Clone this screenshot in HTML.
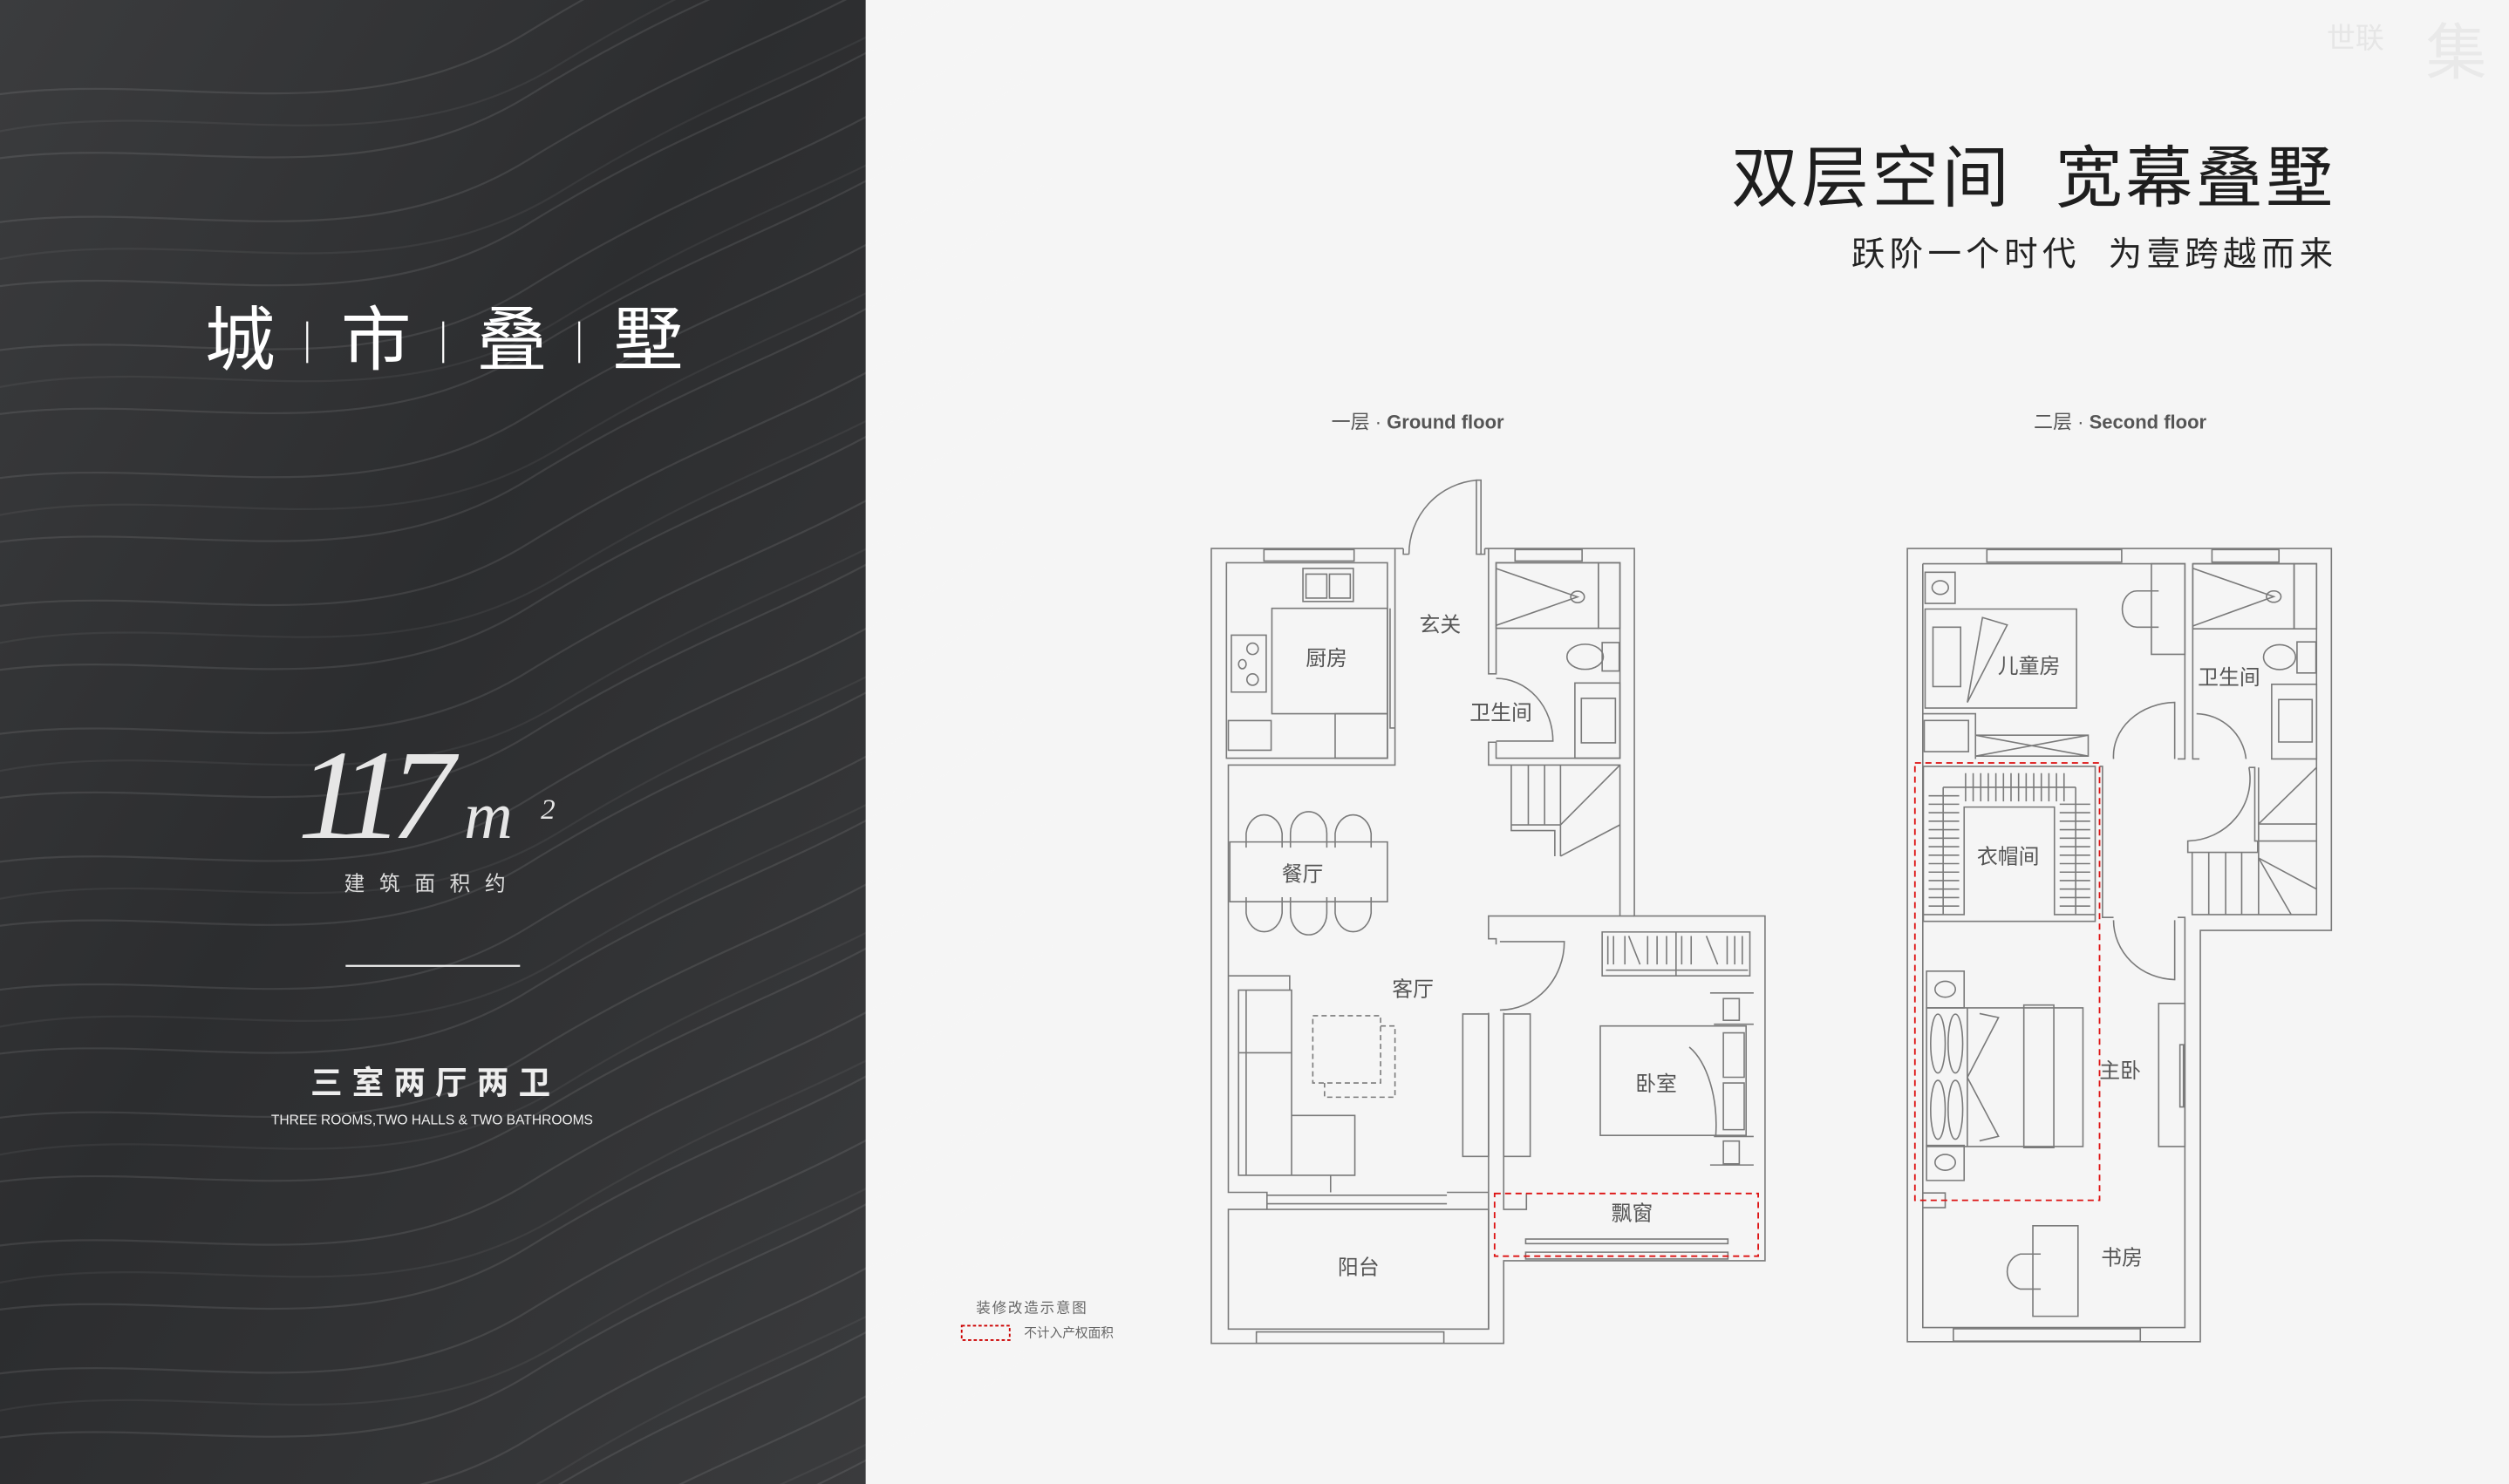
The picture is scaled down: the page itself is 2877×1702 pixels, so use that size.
<!DOCTYPE html>
<html><head><meta charset="utf-8">
<style>
html,body{margin:0;padding:0;background:#f5f5f5;overflow:hidden;width:2877px;height:1702px;}
svg{display:block;}
text{font-family:"Liberation Sans","Noto Sans CJK SC",sans-serif;white-space:pre;}
.p{fill:none;stroke:#7a7a7a;stroke-width:1.6;vector-effect:non-scaling-stroke;}
.t{vector-effect:non-scaling-stroke;}
.lbl{font-size:13px;fill:#555;text-anchor:middle;}
.serif{font-family:"Liberation Serif",serif !important;font-style:italic;}
</style></head>
<body>
<svg width="2877" height="1702" viewBox="0 0 1568 928" preserveAspectRatio="none" xmlns="http://www.w3.org/2000/svg">
<defs>
<linearGradient id="bg" x1="0" y1="0" x2="1" y2="1">
<stop offset="0" stop-color="#3b3c3e"/>
<stop offset="0.45" stop-color="#2c2d2f"/>
<stop offset="1" stop-color="#3a3b3d"/>
</linearGradient>
<path id="w" d="M-80,0 C60,-60 200,20 330,-60 S520,-140 640,-230" fill="none" stroke="#fff" stroke-width="1.2"/>
</defs>
<rect x="0" y="0" width="1568" height="928" fill="#f5f5f5"/>
<rect x="0" y="0" width="541" height="928" fill="url(#bg)"/>
<g opacity="0.09">
<use href="#w" y="80"/><use href="#w" y="120"/><use href="#w" y="160"/><use href="#w" y="200"/><use href="#w" y="240"/><use href="#w" y="280"/><use href="#w" y="320"/><use href="#w" y="360"/><use href="#w" y="400"/><use href="#w" y="440"/><use href="#w" y="480"/><use href="#w" y="520"/><use href="#w" y="560"/><use href="#w" y="600"/><use href="#w" y="640"/><use href="#w" y="680"/><use href="#w" y="720"/><use href="#w" y="760"/><use href="#w" y="800"/><use href="#w" y="840"/><use href="#w" y="880"/><use href="#w" y="920"/><use href="#w" y="960"/><use href="#w" y="1000"/><use href="#w" y="1040"/><use href="#w" y="1080"/>
</g>
<g opacity="0.05">
<use href="#w" y="100" x="20"/><use href="#w" y="180" x="20"/><use href="#w" y="260" x="20"/><use href="#w" y="340" x="20"/><use href="#w" y="420" x="20"/><use href="#w" y="500" x="20"/><use href="#w" y="580" x="20"/><use href="#w" y="660" x="20"/><use href="#w" y="740" x="20"/><use href="#w" y="820" x="20"/><use href="#w" y="900" x="20"/><use href="#w" y="980" x="20"/><use href="#w" y="1060" x="20"/>
</g>

<g fill="#fff" font-size="44" text-anchor="middle">
<text x="150" y="228">城</text><text x="235" y="228">市</text><text x="320" y="228">叠</text><text x="405" y="228">墅</text>
</g>
<g stroke="#fff" stroke-width="1.2"><line x1="192" y1="201" x2="192" y2="227"/><line x1="277" y1="201" x2="277" y2="227"/><line x1="362" y1="201" x2="362" y2="227"/></g>
<text x="186" y="524" fill="#e6e6e6" class="serif" font-size="80" letter-spacing="-8">117</text>
<text x="290" y="524" fill="#e6e6e6" class="serif" font-size="42">m</text>
<text x="338" y="512" fill="#e6e6e6" class="serif" font-size="18">2</text>
<text x="270" y="557" fill="#ddd" font-size="13" text-anchor="middle" letter-spacing="9">建筑面积约</text>
<line x1="216" y1="604" x2="325" y2="604" stroke="#eee" stroke-width="1.2"/>
<text x="272" y="684" fill="#eee" font-size="20" font-weight="bold" text-anchor="middle" letter-spacing="6">三室两厅两卫</text>
<text x="270" y="703" fill="#eee" font-size="8.5" text-anchor="middle">THREE ROOMS,TWO HALLS &amp; TWO BATHROOMS</text>

<text x="1082" y="126" fill="#1e1e1e" font-size="42" textLength="376" lengthAdjust="spacing">双层空间  宽幕叠墅</text>
<text x="1157" y="166" fill="#222" font-size="21" textLength="301" lengthAdjust="spacing">跃阶一个时代  为壹跨越而来</text>
<text x="1490" y="30" fill="#e6e6e6" font-size="18" text-anchor="end">世联</text>
<text x="1535" y="46" fill="#e9e9e9" font-size="38" text-anchor="middle">集</text>
<text x="832" y="268" fill="#555" font-size="12">一层 · <tspan font-weight="bold">Ground floor</tspan></text>
<text x="1271" y="268" fill="#555" font-size="12">二层 · <tspan font-weight="bold">Second floor</tspan></text>
<text x="610" y="821" fill="#666" font-size="9" letter-spacing="1">装修改造示意图</text>
<rect x="601" y="829" width="30" height="9" fill="none" stroke="#c00" stroke-width="1" stroke-dasharray="2,1.5"/>
<text x="640" y="836" fill="#666" font-size="8">不计入产权面积</text>

<g transform="translate(757,343) scale(0.2367,0.3563) translate(-68,-140)">
<path class="p" d="M575,140 L68,140 L68,1535 L840,1535 L840,1390 L1530,1390 L1530,785 L1185,785 L1185,140 L790,140"/>
<path class="p" d="M575,140 L575,150 L590,150 M790,140 L790,150 L775,150"/>
<path class="p" d="M590,150 A195,130 0 0 1 770,20"/>
<rect class="p" x="768" y="20" width="12" height="130"/>
<rect class="p" x="207" y="142" width="238" height="20"/><rect class="p" x="870" y="142" width="177" height="20"/>
<rect class="p" x="187" y="1515" width="495" height="20"/>
<rect class="p" x="898" y="1352" width="534" height="8"/><rect class="p" x="898" y="1375" width="534" height="12"/>
<rect class="p" x="108" y="165" width="425" height="343"/>
<path class="p" d="M553,140 L553,455 L540,455 L540,245 M553,455 L553,520 L113,520 L113,1270 L215,1270 L215,1300"/>
<rect class="p" x="228" y="245" width="305" height="185"/><rect class="p" x="395" y="430" width="138" height="78"/>
<rect class="p" x="310" y="175" width="133" height="58"/><rect class="p" x="318" y="185" width="55" height="42"/><rect class="p" x="380" y="185" width="55" height="42"/>
<rect class="p" x="121" y="292" width="92" height="100"/>
<ellipse class="p" cx="177" cy="316" rx="15" ry="10"/><ellipse class="p" cx="177" cy="370" rx="15" ry="10"/><ellipse class="p" cx="150" cy="343" rx="10" ry="8"/>
<rect class="p" x="113" y="442" width="113" height="52"/>
<path class="p" d="M800,140 L800,360 L820,360 L820,165 L1147,165 L1147,508 L820,508 L820,480 L800,480 L800,520 L1147,520 L1147,785"/>
<rect class="p" x="820" y="165" width="270" height="115"/><rect class="p" x="1090" y="165" width="57" height="115"/>
<path class="p" d="M820,175 L1035,225 L820,275"/><ellipse class="p" cx="1035" cy="225" rx="18" ry="10"/>
<rect class="p" x="1028" y="376" width="119" height="132"/><rect class="p" x="1045" y="403" width="90" height="78"/>
<ellipse class="p" cx="1055" cy="330" rx="48" ry="22"/><rect class="p" x="1100" y="305" width="45" height="50"/>
<path class="p" d="M820,368 A150,110 0 0 1 970,478 L820,478"/>
<path class="p" d="M860,520 L860,635 L975,635 L975,680 M905,520 L905,625 M948,520 L948,625 M990,520 L990,680 M990,625 L1147,520 M990,680 L1147,625 M860,625 L990,625"/>
<rect class="p" x="117" y="655" width="416" height="105"/>
<path class="p" d="M160,665 L160,640 A48,38 0 0 1 255,640 L255,665 M277,665 L277,640 A48,38 0 0 1 373,640 L373,665 M395,665 L395,640 A48,38 0 0 1 490,640 L490,665"/>
<path class="p" d="M160,752 L160,780 A48,38 0 0 0 255,780 L255,752 M277,752 L277,780 A48,38 0 0 0 373,780 L373,752 M395,752 L395,780 A48,38 0 0 0 490,780 L490,752"/>
<path class="p" d="M113,890 L275,890 L275,915 M140,915 L280,915 L280,1135 L447,1135 L447,1240 L140,1240 Z M140,1025 L280,1025 M160,915 L160,1240 M280,1135 L280,1240 M383,1240 L383,1270"/>
<rect class="p" x="336" y="960" width="179" height="118" stroke-dasharray="6,4"/>
<path class="p" d="M515,978 L553,978 L553,1103 L367,1103 L367,1078" stroke-dasharray="6,4"/>
<path class="p" d="M215,1275 L690,1275 M215,1290 L690,1290 M690,1270 L800,1270"/>
<rect class="p" x="732" y="957" width="68" height="250"/><rect class="p" x="840" y="957" width="70" height="250"/>
<path class="p" d="M800,955 L800,1510 M840,955 L840,1300 L900,1300 L900,1272"/>
<path class="p" d="M1185,785 L800,785 L800,825 L820,825 L820,835"/>
<path class="p" d="M830,830 L1000,830 A170,120 0 0 1 830,950"/>
<rect class="p" x="1100" y="813" width="390" height="77"/>
<path class="p" d="M1115,820 L1115,870 M1130,820 L1130,870 M1160,820 L1160,870 M1170,820 L1200,870 M1220,820 L1220,870 M1245,820 L1245,870 M1270,820 L1270,870 M1310,820 L1310,870 M1335,820 L1335,870 M1375,820 L1405,870 M1430,820 L1430,870 M1450,820 L1450,870 M1470,820 L1470,870 M1295,813 L1295,890 M1110,880 L1485,880"/>
<rect class="p" x="1095" y="978" width="385" height="192"/>
<rect class="p" x="1420" y="990" width="55" height="78"/><rect class="p" x="1420" y="1078" width="55" height="82"/>
<path class="p" d="M1330,1015 A120,150 0 0 1 1400,1170"/>
<rect class="p" x="1420" y="930" width="42" height="38"/><rect class="p" x="1420" y="1180" width="42" height="40"/>
<path class="p" d="M1385,920 L1500,920 M1395,975 L1500,975 M1395,1172 L1500,1172 M1385,1222 L1500,1222"/>
<rect class="p" x="113" y="1300" width="687" height="210"/>
<rect x="816" y="1272" width="696" height="110" fill="none" stroke="#d11" stroke-width="1.8" stroke-dasharray="7,5" class="t"/>
</g>
<text x="829" y="416" class="lbl">厨房</text><text x="900" y="395" class="lbl">玄关</text><text x="938" y="450" class="lbl">卫生间</text>
<text x="814" y="551" class="lbl">餐厅</text><text x="883" y="623" class="lbl">客厅</text><text x="1035" y="682" class="lbl">卧室</text>
<text x="1020" y="763" class="lbl">飘窗</text><text x="849" y="797" class="lbl">阳台</text>

<g transform="translate(1192,343) scale(0.182,0.3538) translate(-82,-133)">
<path class="p" d="M82,133 L1538,133 L1538,808 L1088,808 L1088,1535 L82,1535 Z"/>
<path class="p" d="M135,160 L1035,160 L1035,505 L1010,505 M135,160 L135,1510 L1035,1510 L1035,785 L1010,785 M1062,160 L1487,160 L1487,780 L1060,780 L1060,670 M1062,160 L1062,505 L1085,505"/>
<rect class="p" x="355" y="135" width="463" height="22"/><rect class="p" x="1128" y="135" width="230" height="22"/><rect class="p" x="240" y="1512" width="642" height="22"/>
<rect class="p" x="143" y="240" width="520" height="175"/><rect class="p" x="170" y="272" width="95" height="105"/>
<path class="p" d="M340,255 L425,268 L288,405 Z"/>
<rect class="p" x="143" y="175" width="103" height="55"/><ellipse class="p" cx="195" cy="202" rx="28" ry="12"/>
<rect class="p" x="140" y="437" width="152" height="55"/>
<path class="p" d="M135,425 L316,425 L316,505 M316,463 L703,463 L703,500 L316,500 M316,463 L703,500 M316,500 L703,463"/>
<rect class="p" x="920" y="160" width="115" height="160"/><path class="p" d="M945,208 L870,208 A50,32 0 0 0 870,272 L945,272"/>
<rect class="p" x="1062" y="160" width="348" height="115"/><rect class="p" x="1410" y="160" width="77" height="115"/>
<path class="p" d="M1062,270 L1340,218 L1062,168"/><ellipse class="p" cx="1340" cy="218" rx="25" ry="10"/>
<ellipse class="p" cx="1360" cy="325" rx="55" ry="22"/><rect class="p" x="1420" y="298" width="65" height="55"/>
<rect class="p" x="1333" y="373" width="154" height="132"/><rect class="p" x="1357" y="400" width="115" height="75"/>
<path class="p" d="M790,505 A215,95 0 0 1 1000,405 L1000,505 M1075,425 A175,90 0 0 1 1245,505 M790,790 A215,105 0 0 0 1000,895 L1000,790"/>
<path class="p" d="M1255,520 L1275,520 L1275,650 L1285,650 L1285,670 L1045,670 L1045,650 A220,110 0 0 0 1255,520"/>
<path class="p" d="M1117,670 L1117,780 M1175,670 L1175,780 M1230,670 L1230,780 M1288,520 L1288,780 M1288,620 L1487,520 M1288,680 L1487,735 M1288,680 L1400,780 M1288,620 L1487,620 M1288,650 L1487,650"/>
<path class="p" d="M742,518 L752,518 L752,785 L790,785"/>
<rect class="p" x="137" y="518" width="590" height="274"/>
<path class="p" d="M137,780 L277,780 L277,590 L587,590 L587,780 L727,780 M205,555 L660,555 M205,555 L205,780 M660,555 L660,780"/>
<path class="p" d="M155,570 L260,570 M155,585 L260,585 M155,600 L260,600 M155,615 L260,615 M155,630 L260,630 M155,645 L260,645 M155,660 L260,660 M155,675 L260,675 M155,690 L260,690 M155,705 L260,705 M155,720 L260,720 M155,735 L260,735 M155,750 L260,750 M155,765 L260,765"/>
<path class="p" d="M605,585 L710,585 M605,600 L710,600 M605,615 L710,615 M605,630 L710,630 M605,645 L710,645 M605,660 L710,660 M605,675 L710,675 M605,690 L710,690 M605,705 L710,705 M605,720 L710,720 M605,735 L710,735 M605,750 L710,750 M605,765 L710,765"/>
<path class="p" d="M282,530 L282,580 M308,530 L308,580 M334,530 L334,580 M360,530 L360,580 M386,530 L386,580 M412,530 L412,580 M438,530 L438,580 M464,530 L464,580 M490,530 L490,580 M516,530 L516,580 M542,530 L542,580 M568,530 L568,580 M594,530 L594,580 M620,530 L620,580"/>
<rect class="p" x="148" y="945" width="537" height="245"/><rect class="p" x="482" y="940" width="103" height="252"/>
<rect class="p" x="148" y="880" width="129" height="65"/><rect class="p" x="148" y="1188" width="129" height="62"/>
<ellipse class="p" cx="212" cy="912" rx="35" ry="14"/><ellipse class="p" cx="212" cy="1218" rx="35" ry="14"/>
<ellipse class="p" cx="187" cy="1008" rx="25" ry="52"/><ellipse class="p" cx="247" cy="1008" rx="25" ry="52"/><ellipse class="p" cx="187" cy="1125" rx="25" ry="52"/><ellipse class="p" cx="247" cy="1125" rx="25" ry="52"/>
<path class="p" d="M288,945 L288,1190 M330,955 L395,962 L288,1068 L395,1172 L330,1180"/>
<rect class="p" x="945" y="937" width="90" height="253"/><rect class="p" x="1018" y="1010" width="12" height="110"/>
<rect class="p" x="513" y="1330" width="155" height="160"/><path class="p" d="M540,1380 L470,1380 A60,32 0 0 0 470,1442 L540,1442"/>
<path class="p" d="M135,1272 L212,1272 L212,1298 L135,1298"/>
<rect x="108" y="512" width="634" height="773" fill="none" stroke="#d11" stroke-width="1.8" stroke-dasharray="7,5" class="t"/>
</g>
<text x="1268" y="421" class="lbl">儿童房</text><text x="1393" y="428" class="lbl">卫生间</text><text x="1255" y="540" class="lbl">衣帽间</text>
<text x="1325" y="674" class="lbl">主卧</text><text x="1326" y="791" class="lbl">书房</text>
</svg>
</body></html>
